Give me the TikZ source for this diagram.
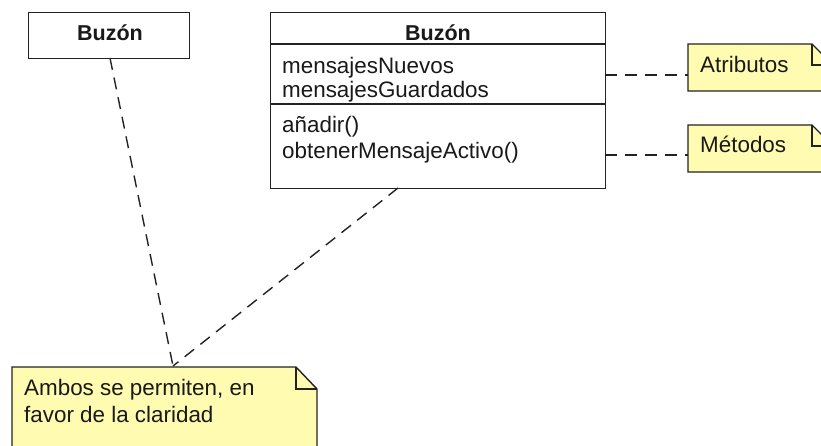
\documentclass[tikz,border=0pt]{standalone}
\usepackage{fontspec}
\setmainfont{Liberation Sans}
\definecolor{notefill}{RGB}{255,251,176}
\definecolor{linegray}{RGB}{35,35,35}
\tikzset{
  box/.style={draw=linegray, line width=1.4pt, fill=white, inner sep=0pt},
  txt/.style={inner sep=0pt, anchor=base west, text=black!90, font=\fontsize{22.4}{25}\selectfont},
  title/.style={txt, anchor=base, font=\fontsize{21.5}{25}\selectfont\bfseries},
  sep/.style={draw=linegray, line width=1.4pt},
  notepath/.style={draw=linegray, line width=1.4pt, fill=notefill, line join=miter},
  link/.style={draw=linegray, line width=1.4pt, dash pattern=on 12pt off 8pt}
}
\begin{document}
\begin{tikzpicture}[x=1pt,y=-1pt]
\useasboundingbox (0,0) rectangle (821,445);
\clip (0,0) rectangle (821,445);
\fill[white] (0,0) rectangle (821,445);

% compact class box
\node[box, minimum width=161pt, minimum height=46pt, anchor=north west] (simple) at (28,12) {};
\node[title] (simpleName) at (110,40) {Buzón};

% full class box with compartments
\node[box, minimum width=335pt, minimum height=176pt, anchor=north west] (cls) at (270,12) {};
\draw[sep] (270,44) -- (605,44);
\draw[sep] (270,104) -- (605,104);
\node[title] (clsName) at (438,40) {Buzón};
\node[txt] (attrA) at (282,73) {mensajesNuevos};
\node[txt] (attrB) at (282,97) {mensajesGuardados};
\node[txt] (opA) at (282,132) {añadir()};
\node[txt] (opB) at (282,158) {obtenerMensajeActivo()};

% notes with folded corner
\draw[notepath] (688,44) -- (812,44) -- (833,65) -- (833,91) -- (688,91) -- cycle;
\draw[sep] (812,44) -- (812,65) -- (833,65);
\node[txt] (noteAttr) at (700,72) {Atributos};

\draw[notepath] (688,125) -- (812,125) -- (833,146) -- (833,172) -- (688,172) -- cycle;
\draw[sep] (812,125) -- (812,146) -- (833,146);
\node[txt] (noteOps) at (700,152) {Métodos};

\draw[notepath] (12,367) -- (296,367) -- (317,389) -- (317,460) -- (12,460) -- cycle;
\draw[sep] (296,367) -- (296,389) -- (317,389);
\node[txt] (noteLineA) at (24,395) {Ambos se permiten, en};
\node[txt] (noteLineB) at (24,422) {favor de la claridad};

% anchor points of the connectors
\coordinate (attrEnd) at (688,75);
\coordinate (opsEnd) at (688,155);
\coordinate (clsAttr) at (605,75);
\coordinate (clsOps) at (605,155);
\coordinate (simpleFoot) at (110,58);
\coordinate (clsFoot) at (398,188);
\coordinate (noteTop) at (173,366);

\draw[link] (clsAttr) -- (attrEnd);
\draw[link] (clsOps) -- (opsEnd);
\draw[link] (simpleFoot) -- (noteTop);
\draw[link] (clsFoot) -- (noteTop);
\end{tikzpicture}
\end{document}
